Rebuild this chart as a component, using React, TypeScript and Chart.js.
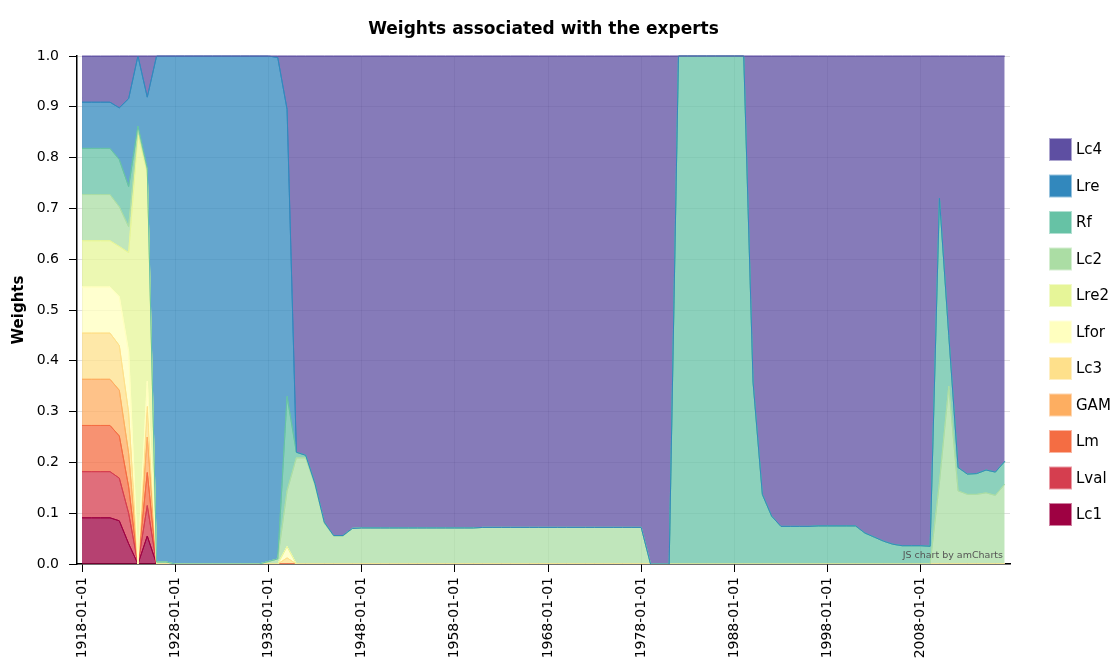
import React, { useEffect, useRef } from "react";
import { Chart, registerables } from "chart.js";

Chart.register(...registerables);

const FONT = '"DejaVu Sans", Verdana, sans-serif';

const years = [
  1918, 1919, 1920, 1921, 1922, 1923, 1924, 1925, 1926, 1927,
  1928, 1929, 1930, 1931, 1932, 1933, 1934, 1935, 1936, 1937,
  1938, 1939, 1940, 1941, 1942, 1943, 1944, 1945, 1946, 1947,
  1948, 1949, 1950, 1951, 1952, 1953, 1954, 1955, 1956, 1957,
  1958, 1959, 1960, 1961, 1962, 1963, 1964, 1965, 1966, 1967,
  1968, 1969, 1970, 1971, 1972, 1973, 1974, 1975, 1976, 1977,
  1978, 1979, 1980, 1981, 1982, 1983, 1984, 1985, 1986, 1987,
  1988, 1989, 1990, 1991, 1992, 1993, 1994, 1995, 1996, 1997,
  1998, 1999, 2000, 2001, 2002, 2003, 2004, 2005, 2006, 2007,
  2008, 2009, 2010, 2011, 2012, 2013, 2014, 2015, 2016, 2017,
];

const tickYears = [1918, 1928, 1938, 1948, 1958, 1968, 1978, 1988, 1998, 2008];

const Lc1 = [
  0.0909, 0.0909, 0.0909, 0.0909, 0.085, 0.04, 0, 0.055, 0, 0,
  0, 0, 0, 0, 0, 0, 0, 0, 0, 0,
  0, 0, 0, 0, 0, 0, 0, 0, 0, 0,
  0, 0, 0, 0, 0, 0, 0, 0, 0, 0,
  0, 0, 0, 0, 0, 0, 0, 0, 0, 0,
  0, 0, 0, 0, 0, 0, 0, 0, 0, 0,
  0, 0, 0, 0, 0, 0, 0, 0, 0, 0,
  0, 0, 0, 0, 0, 0, 0, 0, 0, 0,
  0, 0, 0, 0, 0, 0, 0, 0, 0, 0,
  0, 0, 0, 0, 0, 0, 0, 0, 0, 0,
];

const Lval = [
  0.0909, 0.0909, 0.0909, 0.0909, 0.084, 0.06, 0, 0.06, 0, 0,
  0, 0, 0, 0, 0, 0, 0, 0, 0, 0,
  0, 0, 0, 0, 0, 0, 0, 0, 0, 0,
  0, 0, 0, 0, 0, 0, 0, 0, 0, 0,
  0, 0, 0, 0, 0, 0, 0, 0, 0, 0,
  0, 0, 0, 0, 0, 0, 0, 0, 0, 0,
  0, 0, 0, 0, 0, 0, 0, 0, 0, 0,
  0, 0, 0, 0, 0, 0, 0, 0, 0, 0,
  0, 0, 0, 0, 0, 0, 0, 0, 0, 0,
  0, 0, 0, 0, 0, 0, 0, 0, 0, 0,
];

const Lm = [
  0.0909, 0.0909, 0.0909, 0.0909, 0.083, 0.052, 0, 0.065, 0, 0,
  0, 0, 0, 0, 0, 0, 0, 0, 0, 0,
  0, 0, 0, 0, 0, 0, 0, 0, 0, 0,
  0, 0, 0, 0, 0, 0, 0, 0, 0, 0,
  0, 0, 0, 0, 0, 0, 0, 0, 0, 0,
  0, 0, 0, 0, 0, 0, 0, 0, 0, 0,
  0, 0, 0, 0, 0, 0, 0, 0, 0, 0,
  0, 0, 0, 0, 0, 0, 0, 0, 0, 0,
  0, 0, 0, 0, 0, 0, 0, 0, 0, 0,
  0, 0, 0, 0, 0, 0, 0, 0, 0, 0,
];

const GAM = [
  0.0909, 0.0909, 0.0909, 0.0909, 0.09, 0.066, 0, 0.07, 0, 0,
  0, 0, 0, 0, 0, 0, 0, 0, 0, 0,
  0, 0, 0, 0, 0, 0, 0, 0, 0, 0,
  0, 0, 0, 0, 0, 0, 0, 0, 0, 0,
  0, 0, 0, 0, 0, 0, 0, 0, 0, 0,
  0, 0, 0, 0, 0, 0, 0, 0, 0, 0,
  0, 0, 0, 0, 0, 0, 0, 0, 0, 0,
  0, 0, 0, 0, 0, 0, 0, 0, 0, 0,
  0, 0, 0, 0, 0, 0, 0, 0, 0, 0,
  0, 0, 0, 0, 0, 0, 0, 0, 0, 0,
];

const Lc3 = [
  0.0909, 0.0909, 0.0909, 0.0909, 0.088, 0.08, 0, 0.06, 0, 0,
  0, 0, 0, 0, 0, 0, 0, 0, 0, 0,
  0, 0, 0.012, 0, 0, 0, 0, 0, 0, 0,
  0, 0, 0, 0, 0, 0, 0, 0, 0, 0,
  0, 0, 0, 0, 0, 0, 0, 0, 0, 0,
  0, 0, 0, 0, 0, 0, 0, 0, 0, 0,
  0, 0, 0, 0, 0, 0, 0, 0, 0, 0,
  0, 0, 0, 0, 0, 0, 0, 0, 0, 0,
  0, 0, 0, 0, 0, 0, 0, 0, 0, 0,
  0, 0, 0, 0, 0, 0, 0, 0, 0, 0,
];

const Lfor = [
  0.0909, 0.0909, 0.0909, 0.0909, 0.096, 0.12, 0, 0.05, 0, 0,
  0, 0, 0, 0, 0, 0, 0, 0, 0, 0,
  0, 0, 0.022, 0, 0, 0, 0, 0, 0, 0,
  0, 0, 0, 0, 0, 0, 0, 0, 0, 0,
  0, 0, 0, 0, 0, 0, 0, 0, 0, 0,
  0, 0, 0, 0, 0, 0, 0, 0, 0, 0,
  0, 0, 0, 0, 0, 0, 0, 0, 0, 0,
  0, 0, 0, 0, 0, 0, 0, 0, 0, 0,
  0, 0, 0, 0, 0, 0, 0, 0, 0, 0,
  0, 0, 0, 0, 0, 0, 0, 0, 0, 0,
];

const Lre2 = [
  0.0909, 0.0909, 0.0909, 0.0909, 0.099, 0.195, 0.845, 0.41, 0, 0,
  0, 0, 0, 0, 0, 0, 0, 0, 0, 0,
  0, 0, 0, 0, 0, 0, 0, 0, 0, 0,
  0, 0, 0, 0, 0, 0, 0, 0, 0, 0,
  0, 0, 0, 0, 0, 0, 0, 0, 0, 0,
  0, 0, 0, 0, 0, 0, 0, 0, 0, 0,
  0, 0, 0, 0, 0, 0, 0, 0, 0, 0,
  0, 0, 0, 0, 0, 0, 0, 0, 0, 0,
  0, 0, 0, 0, 0, 0, 0, 0, 0, 0,
  0, 0, 0, 0, 0, 0, 0, 0, 0, 0,
];

const Lc2 = [
  0.0909, 0.0909, 0.0909, 0.0909, 0.078, 0.051, 0.01, 0.005, 0.004, 0.004,
  0, 0, 0, 0, 0, 0, 0, 0, 0, 0,
  0.005, 0.01, 0.11, 0.209, 0.209, 0.155, 0.08, 0.055, 0.055, 0.07,
  0.071, 0.071, 0.071, 0.071, 0.071, 0.071, 0.071, 0.071, 0.071, 0.071,
  0.071, 0.071, 0.071, 0.072, 0.072, 0.072, 0.072, 0.072, 0.072, 0.072,
  0.072, 0.072, 0.072, 0.072, 0.072, 0.072, 0.072, 0.072, 0.072, 0.072,
  0.072, 0, 0, 0, 0, 0, 0, 0, 0, 0,
  0, 0, 0, 0, 0, 0, 0, 0, 0, 0,
  0, 0, 0, 0, 0, 0, 0, 0, 0, 0,
  0, 0, 0.16, 0.35, 0.144, 0.137, 0.137, 0.14, 0.135, 0.157,
];

const Rf = [
  0.0909, 0.0909, 0.0909, 0.0909, 0.093, 0.079, 0.007, 0.004, 0, 0,
  0, 0, 0, 0, 0, 0, 0, 0, 0, 0,
  0, 0, 0.186, 0.011, 0.005, 0.003, 0.002, 0.001, 0.001, 0,
  0, 0, 0, 0, 0, 0, 0, 0, 0, 0,
  0, 0, 0, 0, 0, 0, 0, 0, 0, 0,
  0, 0, 0, 0, 0, 0, 0, 0, 0, 0,
  0, 0, 0, 0, 1, 1, 1, 1, 1, 1,
  1, 1, 0.358, 0.137, 0.094, 0.074, 0.074, 0.074, 0.074, 0.075,
  0.075, 0.075, 0.075, 0.075, 0.061, 0.053, 0.045, 0.039, 0.036, 0.036,
  0.036, 0.035, 0.56, 0.1, 0.046, 0.04, 0.041, 0.045, 0.046, 0.045,
];

const Lre = [
  0.0909, 0.0909, 0.0909, 0.0909, 0.102, 0.173, 0.138, 0.14, 0.996, 0.996,
  1, 1, 1, 1, 1, 1, 1, 1, 1, 1,
  0.995, 0.987, 0.565, 0, 0, 0, 0, 0, 0, 0,
  0, 0, 0, 0, 0, 0, 0, 0, 0, 0,
  0, 0, 0, 0, 0, 0, 0, 0, 0, 0,
  0, 0, 0, 0, 0, 0, 0, 0, 0, 0,
  0, 0, 0, 0, 0, 0, 0, 0, 0, 0,
  0, 0, 0, 0, 0, 0, 0, 0, 0, 0,
  0, 0, 0, 0, 0, 0, 0, 0, 0, 0,
  0, 0, 0, 0, 0, 0, 0, 0, 0, 0,
];

const Lc4 = [
  0.0909, 0.0909, 0.0909, 0.0909, 0.102, 0.084, 0, 0.081, 0, 0,
  0, 0, 0, 0, 0, 0, 0, 0, 0, 0,
  0, 0.003, 0.105, 0.78, 0.786, 0.842, 0.918, 0.944, 0.944, 0.93,
  0.929, 0.929, 0.929, 0.929, 0.929, 0.929, 0.929, 0.929, 0.929, 0.929,
  0.929, 0.929, 0.929, 0.928, 0.928, 0.928, 0.928, 0.928, 0.928, 0.928,
  0.928, 0.928, 0.928, 0.928, 0.928, 0.928, 0.928, 0.928, 0.928, 0.928,
  0.928, 1, 1, 1, 0, 0, 0, 0, 0, 0,
  0, 0, 0.642, 0.863, 0.906, 0.926, 0.926, 0.926, 0.926, 0.925,
  0.925, 0.925, 0.925, 0.925, 0.939, 0.947, 0.955, 0.961, 0.964, 0.964,
  0.964, 0.965, 0.28, 0.55, 0.81, 0.823, 0.822, 0.815, 0.819, 0.798,
];

const seriesNames = ["Lc1", "Lval", "Lm", "GAM", "Lc3", "Lfor", "Lre2", "Lc2", "Rf", "Lre", "Lc4"];
const seriesValues = [Lc1, Lval, Lm, GAM, Lc3, Lfor, Lre2, Lc2, Rf, Lre, Lc4];
const seriesColors = [
  "#9e0142", "#d53e4f", "#f46d43", "#fdae61", "#fee08b", "#ffffbf",
  "#e6f598", "#abdda4", "#66c2a5", "#3288bd", "#5e4fa2",
];

function rgba(hex: string, a: number) {
  const n = parseInt(hex.slice(1), 16);
  return `rgba(${(n >> 16) & 255},${(n >> 8) & 255},${n & 255},${a})`;
}

// Redraw the stroke of every layer in stacking order, so upper layers' lines sit on top
const lineOrderPlugin = {
  id: "lineOrder",
  afterDatasetsDraw(chart: any) {
    const { ctx, chartArea } = chart;
    ctx.save();
    ctx.beginPath();
    ctx.rect(chartArea.left, chartArea.top - 1, chartArea.right - chartArea.left, chartArea.bottom - chartArea.top + 1);
    ctx.clip();
    for (let i = 0; i < chart.data.datasets.length; i++) {
      const meta = chart.getDatasetMeta(i);
      if (meta && meta.dataset) meta.dataset.draw(ctx, chartArea);
    }
    ctx.restore();
  },
};

const sideLegendPlugin = {
  id: "sideLegend",
  afterDraw(chart: any) {
    const ctx = chart.ctx;
    const ds = chart.data.datasets;
    const n = ds.length;
    ctx.save();
    ctx.font = `15px ${FONT}`;
    ctx.textBaseline = "middle";
    ctx.textAlign = "left";
    for (let k = 0; k < n; k++) {
      const idx = n - 1 - k;
      const cy = 149.5 + k * 36.5;
      const x = 1049;
      const color = seriesColors[idx];
      ctx.fillStyle = rgba(color, 0.5);
      ctx.fillRect(x, cy - 11.5, 23, 23);
      ctx.fillStyle = color;
      ctx.fillRect(x + 1, cy - 10.5, 21, 21);
      ctx.fillStyle = "#000";
      ctx.fillText(ds[idx].label, 1076, cy + 1);
    }
    ctx.restore();
  },
};

const watermarkPlugin = {
  id: "watermark",
  afterDraw(chart: any) {
    const ctx = chart.ctx;
    ctx.save();
    ctx.font = `9.5px ${FONT}`;
    ctx.fillStyle = "#555";
    ctx.textAlign = "right";
    ctx.textBaseline = "middle";
    ctx.fillText("JS chart by amCharts", chart.chartArea.right - 7, chart.chartArea.bottom - 8);
    ctx.restore();
  },
};

export default function App() {
  const canvasRef = useRef<HTMLCanvasElement>(null);

  useEffect(() => {
    const canvas = canvasRef.current;
    if (!canvas) return;
    Chart.defaults.font.family = FONT;

    const datasets = seriesNames.map((name, i) => ({
      label: name,
      data: seriesValues[i],
      backgroundColor: rgba(seriesColors[i], 0.75),
      borderColor: seriesColors[i],
      borderWidth: 1,
      fill: i === 0 ? "origin" : "-1",
      pointRadius: 0,
      pointHoverRadius: 0,
      tension: 0,
    }));

    const chart = new Chart(canvas, {
      type: "line",
      data: { labels: years, datasets },
      options: {
        animation: false,
        responsive: true,
        maintainAspectRatio: false,
        events: [],
        layout: { padding: { left: 0, right: 101, top: 0, bottom: 0 } },
        plugins: {
          legend: { display: false },
          tooltip: { enabled: false },
          title: {
            display: true,
            fullSize: false,
            text: "Weights associated with the experts",
            color: "#000",
            font: { size: 17, weight: "bold", family: FONT },
            padding: { top: 19, bottom: 16.6 },
          },
        },
        scales: {
          x: {
            type: "linear",
            min: 1917.46,
            max: 2017.57,
            z: 1,
            afterBuildTicks: (scale: any) => {
              scale.ticks = tickYears.map((v) => ({ value: v }));
            },
            afterFit: (scale: any) => {
              scale.height = 95;
            },
            ticks: {
              autoSkip: false,
              minRotation: 90,
              maxRotation: 90,
              padding: 5,
              color: "#000",
              font: { size: 14, family: FONT },
              callback: (v: any) => `${v}-01-01`,
            },
            grid: {
              color: "rgba(0,0,0,0.12)",
              tickColor: "#000",
              tickLength: 8,
            },
            border: { color: "#000", width: 1.5 },
          },
          y: {
            stacked: true,
            min: 0,
            max: 1,
            z: 1,
            afterFit: (scale: any) => {
              scale.width = 77;
            },
            ticks: {
              stepSize: 0.1,
              padding: 10,
              color: "#000",
              font: { size: 14, family: FONT },
              callback: (v: any) => Number(v).toFixed(1),
            },
            grid: {
              color: "rgba(0,0,0,0.12)",
              tickColor: "#000",
              tickLength: 8,
            },
            border: { color: "#000", width: 1.5 },
            title: {
              display: true,
              text: "Weights",
              color: "#000",
              font: { size: 15, weight: "bold", family: FONT },
              padding: { top: 10, bottom: 0 },
            },
          },
        },
      },
      plugins: [lineOrderPlugin, sideLegendPlugin, watermarkPlugin],
    } as any);

    return () => chart.destroy();
  }, []);

  return (
    <div style={{ position: "fixed", left: 0, top: 0, width: 1111, height: 659, background: "#fff" }}>
      <canvas ref={canvasRef} />
    </div>
  );
}
